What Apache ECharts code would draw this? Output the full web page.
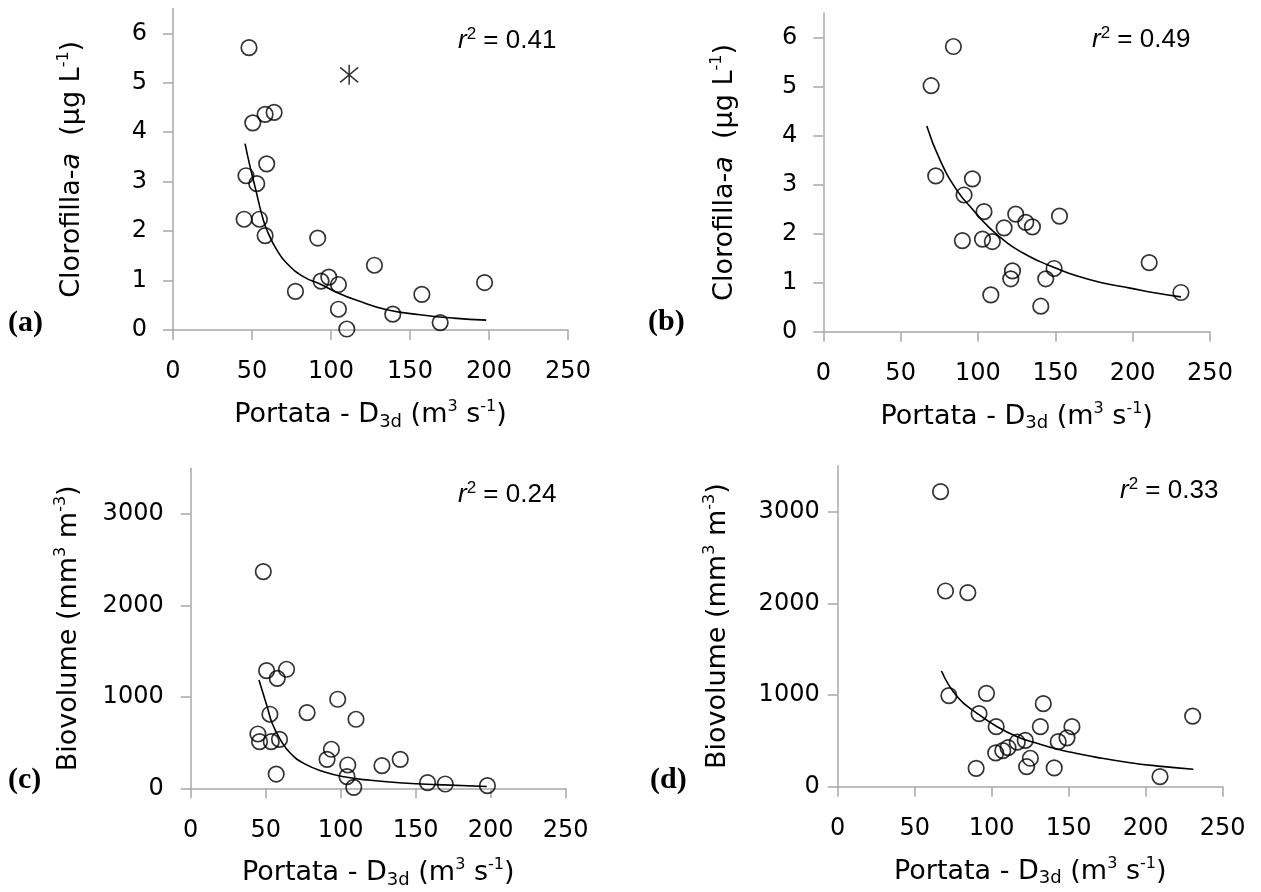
<!DOCTYPE html>
<html>
<head>
<meta charset="utf-8">
<script src="https://cdn.jsdelivr.net/npm/echarts@6/dist/echarts.min.js"></script>
<style>
html,body{margin:0;padding:0;background:#fff;}
#chart{width:1261px;height:892px;}
</style>
</head>
<body>
<div id="chart"></div>
<script>
// ---- axis settings ----
const xMin = 0, xMax = 250, xStep = 50;
const chlMax = 6.5, chlStep = 1;
const bioMax = 3500, bioStep = 1000;

// ---- panel (a): Clorofilla-a vs portata ----
const aX = [48.1, 50.5, 58.3, 64.0, 59.3, 46.2, 53.0, 45.0, 54.7, 58.3, 91.6, 77.5, 93.7, 98.6, 104.7, 104.7, 110.0, 127.5, 139.1, 157.5, 169.1, 197.2];
const aY = [5.71, 4.19, 4.36, 4.40, 3.36, 3.12, 2.96, 2.24, 2.24, 1.91, 1.86, 0.78, 0.99, 1.07, 0.92, 0.42, 0.02, 1.31, 0.32, 0.72, 0.15, 0.96];
const aOutX = [111.5];
const aOutY = [5.16];
const aFitX = [45.6, 48.8, 51.9, 57.2, 60.4, 65.7, 72.0, 82.5, 93.7, 103.7, 116.3, 135.3, 156.4, 177.5, 198.2];
const aFitY = [3.77, 3.30, 2.90, 2.22, 1.95, 1.62, 1.35, 1.08, 0.92, 0.76, 0.60, 0.41, 0.31, 0.24, 0.20];
const aR2 = '0.41';

// ---- panel (b) ----
const bX = [84.1, 69.7, 72.7, 96.4, 91.0, 103.9, 89.9, 102.9, 109.3, 116.9, 124.4, 130.9, 135.2, 152.7, 122.3, 121.2, 108.3, 143.8, 149.2, 140.6, 210.7, 231.2];
const bY = [5.82, 5.02, 3.18, 3.12, 2.79, 2.45, 1.86, 1.89, 1.84, 2.12, 2.40, 2.23, 2.14, 2.36, 1.24, 1.08, 0.75, 1.08, 1.29, 0.52, 1.41, 0.80];
const bFitX = [66.9, 75.5, 86.3, 97.0, 107.8, 118.6, 129.4, 140.2, 151.0, 161.7, 180.0, 198.4, 215.0, 231.2];
const bFitY = [4.20, 3.50, 2.89, 2.48, 2.11, 1.82, 1.60, 1.43, 1.29, 1.16, 1.00, 0.89, 0.79, 0.71];
const bR2 = '0.49';

// ---- panel (c): Biovolume ----
const cX = [48.4, 50.6, 57.7, 63.9, 52.8, 44.8, 45.9, 53.7, 59.2, 57.0, 77.6, 98.0, 110.2, 93.8, 90.9, 104.7, 104.2, 108.7, 127.5, 139.7, 157.9, 169.7, 197.8];
const cY = [2370, 1287, 1203, 1302, 810, 594, 510, 510, 536, 156, 827, 974, 755, 427, 317, 255, 127, 11, 248, 317, 62, 47, 29];
const cFitX = [45.5, 51.0, 54.3, 59.9, 66.5, 75.4, 88.7, 104.2, 119.8, 141.9, 164.1, 197.4];
const cFitY = [1185, 893, 711, 528, 383, 273, 182, 120, 88, 58, 40, 20];
const cR2 = '0.24';

// ---- panel (d) ----
const dX = [66.8, 70.0, 84.5, 72.2, 96.6, 91.8, 102.9, 133.5, 131.6, 152.1, 148.9, 143.2, 121.8, 116.6, 110.6, 107.2, 102.6, 125.1, 122.7, 89.9, 140.6, 209.3, 230.5];
const dY = [3217, 2134, 2116, 993, 1018, 797, 655, 905, 655, 655, 533, 491, 505, 485, 425, 393, 368, 310, 218, 200, 205, 109, 770];
const dFitX = [67.4, 77.6, 90.5, 103.5, 116.5, 129.4, 142.4, 153.2, 168.3, 189.9, 210.0, 230.9];
const dFitY = [1262, 981, 800, 654, 545, 473, 410, 370, 320, 262, 222, 190];
const dR2 = '0.33';

// ---- text ----
const panelLetters = ['(a)', '(b)', '(c)', '(d)'];
const xName = 'Portata - D{sub|3d} (m{sup|3} s{sup|-1})';
const chlName = 'Clorofilla-{it|a}  (µg L{sup|-1})';
const bioName = 'Biovolume (mm{sup|3} m{sup|-3})';

const FONT = '"DejaVu Sans", "Liberation Sans", Arial, sans-serif';
const R2FONT = '"Liberation Sans", Arial, sans-serif';
const AXIS_COLOR = '#a8a8a8';
const TICK_FS = 24;
const NAME_FS = 27;

const zip = (xs, ys) => xs.map((x, i) => [x, ys[i]]);

const nameRich = {
  sup: { fontSize: 16, fontFamily: FONT, color: '#000', verticalAlign: 'top', lineHeight: 14 },
  sub: { fontSize: 18, fontFamily: FONT, color: '#000', verticalAlign: 'bottom', lineHeight: 16 },
  it: { fontSize: NAME_FS, fontFamily: FONT, color: '#000', fontStyle: 'italic', lineHeight: 32 }
};

function xAxisOf(i) {
  return {
    gridIndex: i, type: 'value', min: xMin, max: xMax, interval: xStep,
    name: xName, nameLocation: 'middle', nameGap: 69,
    nameTextStyle: { fontSize: NAME_FS, fontFamily: FONT, color: '#000', lineHeight: 32, rich: nameRich },
    axisLine: { show: true, onZero: false, lineStyle: { color: AXIS_COLOR, width: 1.5 } },
    axisTick: { show: true, inside: false, length: 10, lineStyle: { color: AXIS_COLOR, width: 1.5 } },
    axisLabel: { fontSize: TICK_FS, fontFamily: FONT, color: '#000', margin: 30 },
    splitLine: { show: false }
  };
}
function yAxisOf(i, max, step, name, gap, labMargin) {
  return {
    gridIndex: i, type: 'value', min: 0, max: max, interval: step,
    name: name, nameLocation: 'middle', nameGap: gap,
    nameTextStyle: { fontSize: NAME_FS, fontFamily: FONT, color: '#000', lineHeight: 32, rich: nameRich },
    axisLine: { show: true, onZero: false, lineStyle: { color: AXIS_COLOR, width: 1.5 } },
    axisTick: { show: true, inside: false, length: 10, lineStyle: { color: AXIS_COLOR, width: 1.5 } },
    axisLabel: {
      fontSize: TICK_FS, fontFamily: FONT, color: '#000', margin: labMargin,
      showMaxLabel: false, formatter: v => String(v)
    },
    splitLine: { show: false }
  };
}

function scatter(i, xs, ys) {
  return {
    type: 'scatter', xAxisIndex: i, yAxisIndex: i, data: zip(xs, ys),
    symbol: 'circle', symbolSize: 15.5,
    itemStyle: { color: 'rgba(0,0,0,0)', borderColor: '#000', borderWidth: 1.7 },
    silent: true, z: 3
  };
}
function fit(i, xs, ys) {
  return {
    type: 'line', xAxisIndex: i, yAxisIndex: i, data: zip(xs, ys),
    smooth: true, showSymbol: false, symbol: 'none',
    lineStyle: { color: '#000', width: 1.6 }, silent: true, z: 2
  };
}

const r2Rich = {
  it: { fontSize: 26, fontFamily: R2FONT, fontStyle: 'italic', color: '#000', lineHeight: 30 },
  sup: { fontSize: 17, fontFamily: R2FONT, color: '#000', verticalAlign: 'top', lineHeight: 14 },
  n: { fontSize: 26, fontFamily: R2FONT, color: '#000', lineHeight: 30 }
};
function r2Text(x, y, val) {
  return {
    type: 'text', x: x, y: y, silent: true,
    style: { text: '{it|r}{sup|2}{n| = ' + val + '}', rich: r2Rich, verticalAlign: 'middle', align: 'left' }
  };
}
function letterText(x, y, t) {
  return {
    type: 'text', x: x, y: y, silent: true,
    style: { text: t, font: 'bold 30px "Liberation Serif", "Times New Roman", serif', fill: '#000', verticalAlign: 'middle', align: 'left' }
  };
}

const chart = echarts.init(document.getElementById('chart'), null, { renderer: 'canvas' });
chart.setOption({
  animation: false,
  backgroundColor: '#fff',
  grid: [
    { left: 173, top: 8.6, width: 395, height: 321.4 },
    { left: 823.3, top: 13.2, width: 386.7, height: 318.5 },
    { left: 190.7, top: 468.3, width: 375, height: 320 },
    { left: 837.7, top: 465.7, width: 385, height: 321 }
  ],
  xAxis: [xAxisOf(0), xAxisOf(1), xAxisOf(2), xAxisOf(3)],
  yAxis: [
    yAxisOf(0, chlMax, chlStep, chlName, 85, 26),
    yAxisOf(1, chlMax, chlStep, chlName, 82, 26),
    yAxisOf(2, bioMax, bioStep, bioName, 106, 27),
    yAxisOf(3, bioMax, bioStep, bioName, 104, 18)
  ],
  series: [
    scatter(0, aX, aY),
    {
      type: 'scatter', xAxisIndex: 0, yAxisIndex: 0, data: zip(aOutX, aOutY),
      symbol: 'path://M0,-10L0,10M-9,-7.5L9,7.5M-9,7.5L9,-7.5', symbolSize: [18, 20],
      itemStyle: { color: 'rgba(0,0,0,0)', borderColor: '#000', borderWidth: 1.6 }, silent: true, z: 3
    },
    fit(0, aFitX, aFitY),
    scatter(1, bX, bY),
    fit(1, bFitX, bFitY),
    scatter(2, cX, cY),
    fit(2, cFitX, cFitY),
    scatter(3, dX, dY),
    fit(3, dFitX, dFitY)
  ],
  graphic: [
    r2Text(458, 41, aR2),
    r2Text(1092, 40, bR2),
    r2Text(458, 495, cR2),
    r2Text(1120, 491, dR2),
    letterText(8, 323, panelLetters[0]),
    letterText(648, 322, panelLetters[1]),
    letterText(8, 780, panelLetters[2]),
    letterText(650, 780, panelLetters[3])
  ]
});
</script>
</body>
</html>
